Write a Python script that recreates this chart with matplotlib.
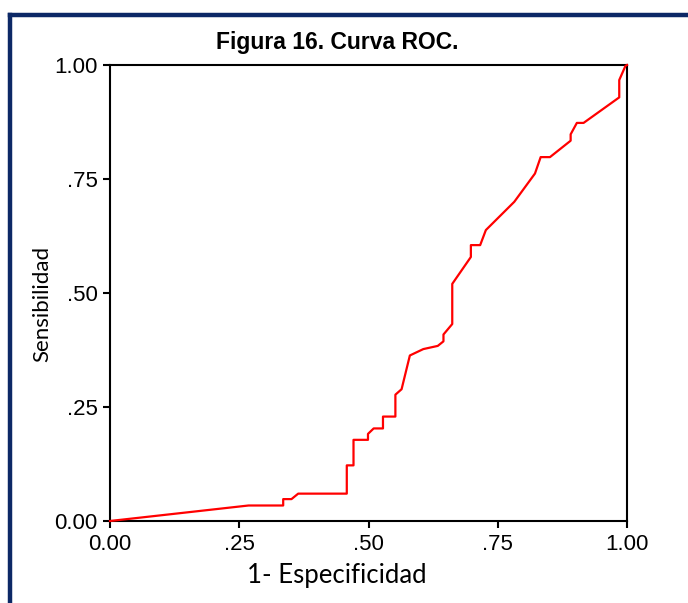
import matplotlib
matplotlib.use("Agg")
import matplotlib.pyplot as plt
from matplotlib.lines import Line2D

# puntos de la curva ROC
fpr = [0.000, 0.268, 0.335, 0.335, 0.351, 0.364, 0.458, 0.458, 0.471, 0.471,
       0.499, 0.499, 0.510, 0.528, 0.528, 0.552, 0.552, 0.564, 0.580, 0.606,
       0.634, 0.645, 0.645, 0.662, 0.662, 0.698, 0.698, 0.716, 0.727, 0.782,
       0.822, 0.833, 0.851, 0.891, 0.891, 0.903, 0.916, 0.985, 0.985, 0.997,
       1.000]
tpr = [0.000, 0.034, 0.034, 0.048, 0.048, 0.060, 0.060, 0.122, 0.122, 0.178,
       0.178, 0.191, 0.203, 0.203, 0.229, 0.229, 0.277, 0.289, 0.363, 0.377,
       0.384, 0.394, 0.409, 0.432, 0.520, 0.579, 0.605, 0.605, 0.638, 0.700,
       0.762, 0.798, 0.798, 0.834, 0.848, 0.873, 0.873, 0.929, 0.967, 0.998,
       1.000]

ticks = [0.0, 0.25, 0.5, 0.75, 1.0]
tick_labels = ["0.00", ".25", ".50", ".75", "1.00"]

W, H = 688, 603
fig = plt.figure(figsize=(W / 100, H / 100), dpi=100)
ax = fig.add_axes([110 / W, 1 - 521 / H, 517 / W, 456 / H])

ax.plot(fpr, tpr, color="#ff0000", lw=1.6, clip_on=False, zorder=3)
ax.set_xlim(0, 1)
ax.set_ylim(0, 1)

ax.set_xticks(ticks)
ax.set_xticklabels(tick_labels)
ax.set_yticks(ticks)
ax.set_yticklabels(tick_labels)
ax.tick_params(direction="out", length=5, width=1.5, labelsize=16, pad=4,
               colors="black")
for lab in ax.get_xticklabels() + ax.get_yticklabels():
    lab.set_family(["Liberation Sans", "DejaVu Sans"])
for s in ax.spines.values():
    s.set_linewidth(1.5)
    s.set_color("black")

# titulos (centrados como en el original, no sobre el eje)
fig.text(337 / W, 1 - 576 / H, "1- Especificidad", ha="center", va="center",
         fontsize=18.5, family="Lato")
fig.text(42 / W, 1 - 304 / H, "Sensibilidad", ha="center", va="center",
         rotation=90, fontsize=16, family="Lato")
fig.text(337 / W, 1 - 43 / H, "Figura 16. Curva ROC.", ha="center", va="center",
         fontsize=16.5, fontweight="bold", family="Liberation Sans")

# marco azul de la diapositiva
navy = "#0c2866"
fig.add_artist(Line2D([10 / W, 10 / W], [0, 1 - 15 / H], transform=fig.transFigure,
                      color=navy, lw=3.2, solid_capstyle="projecting"))
fig.add_artist(Line2D([10 / W, 1.0], [1 - 15 / H, 1 - 15 / H], transform=fig.transFigure,
                      color=navy, lw=3.2, solid_capstyle="projecting"))

fig.savefig("out.png", dpi=100)
